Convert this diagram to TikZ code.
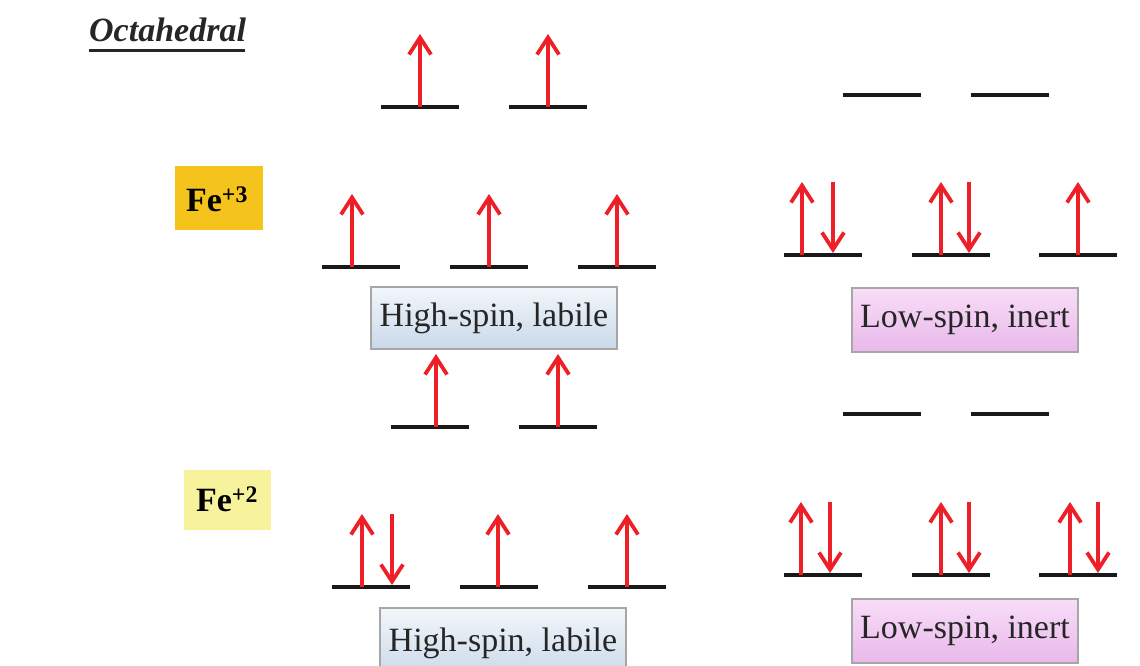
\documentclass[tikz,border=0pt]{standalone}
\usepackage{fontspec}
\setmainfont{Liberation Serif}
\usetikzlibrary{arrows.meta}
\definecolor{spinred}{HTML}{EE2027}
\definecolor{goldbox}{HTML}{F4C41C}
\definecolor{paleyellow}{HTML}{F7F29C}
\definecolor{bluetop}{HTML}{F2F6FA}
\definecolor{bluebot}{HTML}{C9D9E9}
\definecolor{pinktop}{HTML}{F8DDF8}
\definecolor{pinkbot}{HTML}{E9B8EA}
\tikzset{
  lvl/.style={line width=4pt, black!90},
  spin/.style={line width=3.8pt, spinred, -{Straight Barb[length=17pt,width=22pt,line width=3.8pt]}},
  hsbox/.style={draw=gray!70, line width=1.5pt, top color=bluetop, bottom color=bluebot, minimum width=246pt, minimum height=62pt, inner sep=0pt, font=\fontsize{34}{38}\selectfont, text=black!85},
  lsbox/.style={draw=gray!70, line width=1.5pt, top color=pinktop, bottom color=pinkbot, minimum width=226pt, minimum height=64pt, inner sep=0pt, font=\fontsize{34}{38}\selectfont, text=black!85},
  ionbox/.style={inner sep=0pt, font=\fontsize{34}{38}\selectfont\bfseries}
}
\newcommand{\lev}[3]{\draw[lvl] (#1-39,#2) coordinate (#3a) -- (#1+39,#2) coordinate (#3b);}
\newcommand{\upspin}[3]{\coordinate (#3s) at (#1,#2); \coordinate (#3e) at (#1,#2-73); \draw[spin] (#3s) -- (#3e);}
\newcommand{\dnspin}[3]{\coordinate (#3s) at (#1,#2-73); \coordinate (#3e) at (#1,#2-2); \draw[spin] (#3s) -- (#3e);}
\begin{document}
\begin{tikzpicture}[x=1pt,y=-1pt]
\useasboundingbox (0,0) rectangle (1140,666);
\fill[white] (0,0) rectangle (1140,666);
% title
\node[anchor=base west, inner sep=0pt, font=\fontsize{34}{38}\selectfont\bfseries\itshape, text=black!85] (tit) at (89,42) {Octahedral};
\draw[line width=3pt, black!85] (tit.base west) ++(0,9) -- ++(156,0);
% ion labels
\fill[goldbox] (175,166) rectangle (263,230);
\node[ionbox] (fe3) at (217,199) {Fe\textsuperscript{+3}};
\fill[paleyellow] (184,470) rectangle (271,530);
\node[ionbox] (fe2) at (227,499) {Fe\textsuperscript{+2}};
% ===== Fe3 high spin =====
\lev{420}{107}{A1} \lev{548}{107}{A2}
\lev{361}{267}{A3} \lev{489}{267}{A4} \lev{617}{267}{A5}
\upspin{420}{107}{a1} \upspin{548}{107}{a2}
\upspin{352}{267}{a3} \upspin{489}{267}{a4} \upspin{617}{267}{a5}
\node[hsbox] (hs1) at (494,318) {High-spin, labile};
% ===== Fe3 low spin =====
\lev{882}{95}{B1} \lev{1010}{95}{B2}
\lev{823}{255}{B3} \lev{951}{255}{B4} \lev{1078}{255}{B5}
\upspin{802}{255}{b1} \dnspin{833}{255}{b2}
\upspin{941}{255}{b3} \dnspin{969}{255}{b4}
\upspin{1078}{255}{b5}
\node[lsbox] (ls1) at (965,320) {Low-spin, inert};
% ===== Fe2 high spin =====
\lev{430}{427}{C1} \lev{558}{427}{C2}
\lev{371}{587}{C3} \lev{499}{587}{C4} \lev{627}{587}{C5}
\upspin{436}{427}{c1} \upspin{558}{427}{c2}
\upspin{362}{587}{c3} \dnspin{392}{587}{c4}
\upspin{498}{587}{c5} \upspin{627}{587}{c6}
\node[hsbox, minimum height=70pt] (hs2) at (503,643) {High-spin, labile};
% ===== Fe2 low spin =====
\lev{882}{414}{D1} \lev{1010}{414}{D2}
\lev{823}{575}{D3} \lev{951}{575}{D4} \lev{1078}{575}{D5}
\upspin{801}{575}{d1} \dnspin{830}{575}{d2}
\upspin{941}{575}{d3} \dnspin{969}{575}{d4}
\upspin{1070}{575}{d5} \dnspin{1098}{575}{d6}
\node[lsbox] (ls2) at (965,631) {Low-spin, inert};
\end{tikzpicture}
\end{document}
